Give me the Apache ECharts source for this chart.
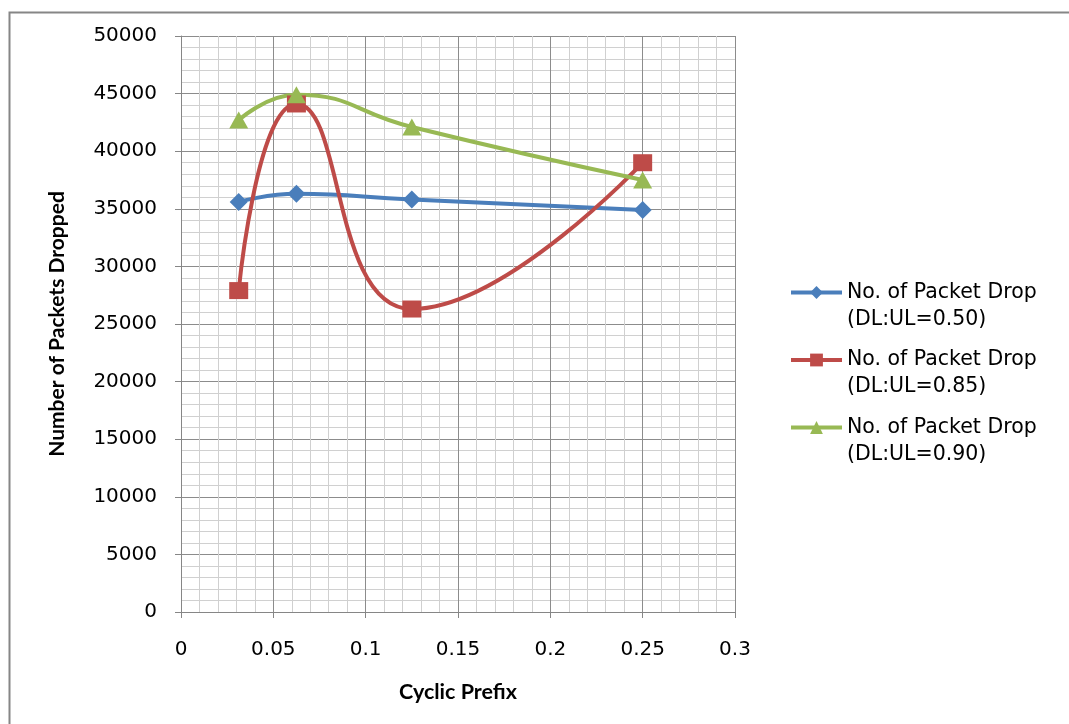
<!DOCTYPE html>
<html>
<head>
<meta charset="utf-8">
<script src="https://cdn.jsdelivr.net/npm/echarts@6/dist/echarts.min.js"></script>
<style>
html,body{margin:0;padding:0;background:#fff;}
#chart{width:1069px;height:724px;}
</style>
</head>
<body>
<div id="chart"></div>
<script>
var cyclicPrefix = [0.03125, 0.0625, 0.125, 0.25];
var drop050 = [35600, 36300, 35800, 34900];
var drop085 = [27900, 44100, 26300, 39000];
var drop090 = [42700, 44900, 42100, 37500];
var seriesNames = ['No. of Packet Drop\n(DL:UL=0.50)', 'No. of Packet Drop\n(DL:UL=0.85)', 'No. of Packet Drop\n(DL:UL=0.90)'];

function pairs(ys){ return cyclicPrefix.map(function(x,i){ return [x, ys[i]]; }); }

var chart = echarts.init(document.getElementById('chart'), null, {renderer:'canvas'});
var labelFont = 'DejaVu Sans';
var titleFont = 'Lato';
chart.setOption({
  animation: false,
  backgroundColor: '#fff',
  graphic: [{
    type: 'rect', left: 7, top: 10, shape: {width: 1100, height: 800},
    style: {fill: 'none', stroke: '#868686', lineWidth: 2}, z: -1
  }],
  grid: {left: 181, right: 334, top: 36, bottom: 112, containLabel: false},
  legend: {
    orient: 'vertical', left: 789, top: 252, padding: 0,
    itemWidth: 51, itemHeight: 16, itemGap: -13.5,
    data: seriesNames,
    lineStyle: {width: 4},
    formatter: function(n){ return '\n' + n; },
    textStyle: {fontFamily: labelFont, fontSize: 20.5, color: '#000', lineHeight: 27}
  },
  xAxis: {
    type: 'value', min: 0, max: 0.3, interval: 0.05,
    name: 'Cyclic Prefix', nameLocation: 'middle', nameGap: 69,
    nameTextStyle: {fontFamily: titleFont, fontWeight: 'bold', fontSize: 21.5, color: '#000'},
    axisLine: {show: true, lineStyle: {color: '#868686', width: 1}},
    axisTick: {show: true, length: 6, lineStyle: {color: '#868686'}},
    axisLabel: {fontFamily: labelFont, fontSize: 20, color: '#000', margin: 28},
    splitLine: {show: true, lineStyle: {color: '#8c8c8c', width: 1}},
    minorTick: {show: false, splitNumber: 5},
    minorSplitLine: {show: true, lineStyle: {color: '#d0d0d0', width: 1}}
  },
  yAxis: {
    type: 'value', min: 0, max: 50000, interval: 5000,
    name: 'Number of Packets Dropped', nameLocation: 'middle', nameGap: 113,
    nameTextStyle: {fontFamily: titleFont, fontWeight: 'bold', fontSize: 21, color: '#000'},
    axisLine: {show: true, lineStyle: {color: '#868686', width: 1}},
    axisTick: {show: true, length: 6, lineStyle: {color: '#868686'}},
    axisLabel: {fontFamily: labelFont, fontSize: 20, color: '#000', margin: 24,
      formatter: function(v){ return String(v); }},
    splitLine: {show: true, lineStyle: {color: '#8c8c8c', width: 1}},
    minorTick: {show: false, splitNumber: 5},
    minorSplitLine: {show: true, lineStyle: {color: '#d0d0d0', width: 1}}
  },
  series: [
    {name: seriesNames[0], type: 'line', data: pairs(drop050), smooth: 0.5,
     symbol: 'diamond', symbolSize: 18, color: '#4a7ebb', lineStyle: {width: 4}, itemStyle: {color: '#4a7ebb'}},
    {name: seriesNames[1], type: 'line', data: pairs(drop085), smooth: 0.5,
     symbol: 'rect', symbolSize: [19, 17], color: '#be4b48', lineStyle: {width: 4}, itemStyle: {color: '#be4b48'}},
    {name: seriesNames[2], type: 'line', data: pairs(drop090), smooth: 0.5,
     symbol: 'triangle', symbolSize: [19, 17], color: '#98b954', lineStyle: {width: 4}, itemStyle: {color: '#98b954'}}
  ]
});
</script>
</body>
</html>
